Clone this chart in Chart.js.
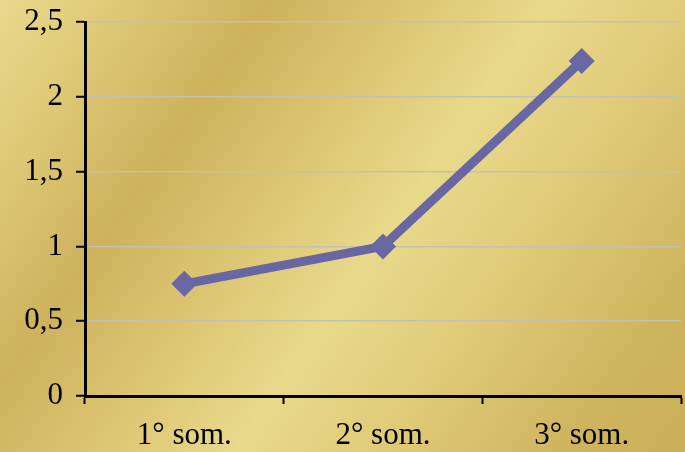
<!DOCTYPE html>
<html>
<head>
<meta charset="utf-8">
<script src="https://cdn.jsdelivr.net/npm/chart.js@4/dist/chart.umd.min.js"></script>
<style>
    html, body {
        margin: 0;
        padding: 0;
    }
    body {
        width: 685px;
        height: 452px;
        overflow: hidden;
        background: linear-gradient(125deg, #e9d98c 0%, #dcc673 14%, #ceb25d 27%, #dbc470 40%, #e8d98b 55%, #dfca78 70%, #cfb45e 88%, #cbae58 100%);
    }
    canvas {
        display: block;
    }
</style>
</head>
<body>
<canvas id="lineChart" width="685" height="452"></canvas>
<script>
var categories = ['1° som.', '2° som.', '3° som.'];
var values = [0.75, 1.0, 2.24];
var yTicks = [0, 0.5, 1, 1.5, 2, 2.5];

var lineColor = '#6867a3';
var serif = "'Liberation Serif', 'Times New Roman', serif";

function addLineChart(selector, labelsArr, dataArr) {
    var ctx = document.querySelector(selector);
    return new Chart(ctx, {
        type: 'line',
        data: {
            labels: labelsArr,
            datasets: [{
                data: dataArr,
                borderColor: lineColor,
                backgroundColor: lineColor,
                borderWidth: 9,
                tension: 0,
                pointStyle: 'rectRot',
                pointRadius: 13,
                pointBorderWidth: 0,
                pointBackgroundColor: lineColor
            }]
        },
        options: {
            responsive: false,
            animation: false,
            devicePixelRatio: 1,
            layout: {
                autoPadding: false,
                padding: { top: 22, right: 4, bottom: 0, left: 0 }
            },
            plugins: {
                legend: { display: false },
                tooltip: { enabled: false }
            },
            scales: {
                x: {
                    offset: true,
                    afterFit: function (scale) {
                        scale.height = 56;
                        scale.paddingLeft = 0;
                        scale.paddingRight = 0;
                    },
                    grid: {
                        offset: true,
                        drawOnChartArea: false,
                        tickLength: 8,
                        tickColor: '#000',
                        tickWidth: 2
                    },
                    border: { color: '#000', width: 3 },
                    ticks: {
                        color: '#000',
                        padding: 13,
                        maxRotation: 0,
                        font: { family: serif, size: 31 }
                    }
                },
                y: {
                    min: yTicks[0],
                    max: yTicks[yTicks.length - 1],
                    afterFit: function (scale) {
                        scale.width = 85;
                        scale.paddingTop = 0;
                        scale.paddingBottom = 0;
                    },
                    afterBuildTicks: function (scale) {
                        scale.ticks = yTicks.map(function (v) { return { value: v }; });
                    },
                    grid: {
                        color: '#c3c0b4',
                        lineWidth: 1.5,
                        tickLength: 9,
                        tickColor: '#000',
                        tickWidth: 2
                    },
                    border: { color: '#000', width: 3 },
                    ticks: {
                        color: '#000',
                        padding: 13,
                        font: { family: serif, size: 31 },
                        callback: function (v) { return String(v).replace('.', ','); }
                    }
                }
            }
        }
    });
}

addLineChart('#lineChart', categories, values);
</script>
</body>
</html>
